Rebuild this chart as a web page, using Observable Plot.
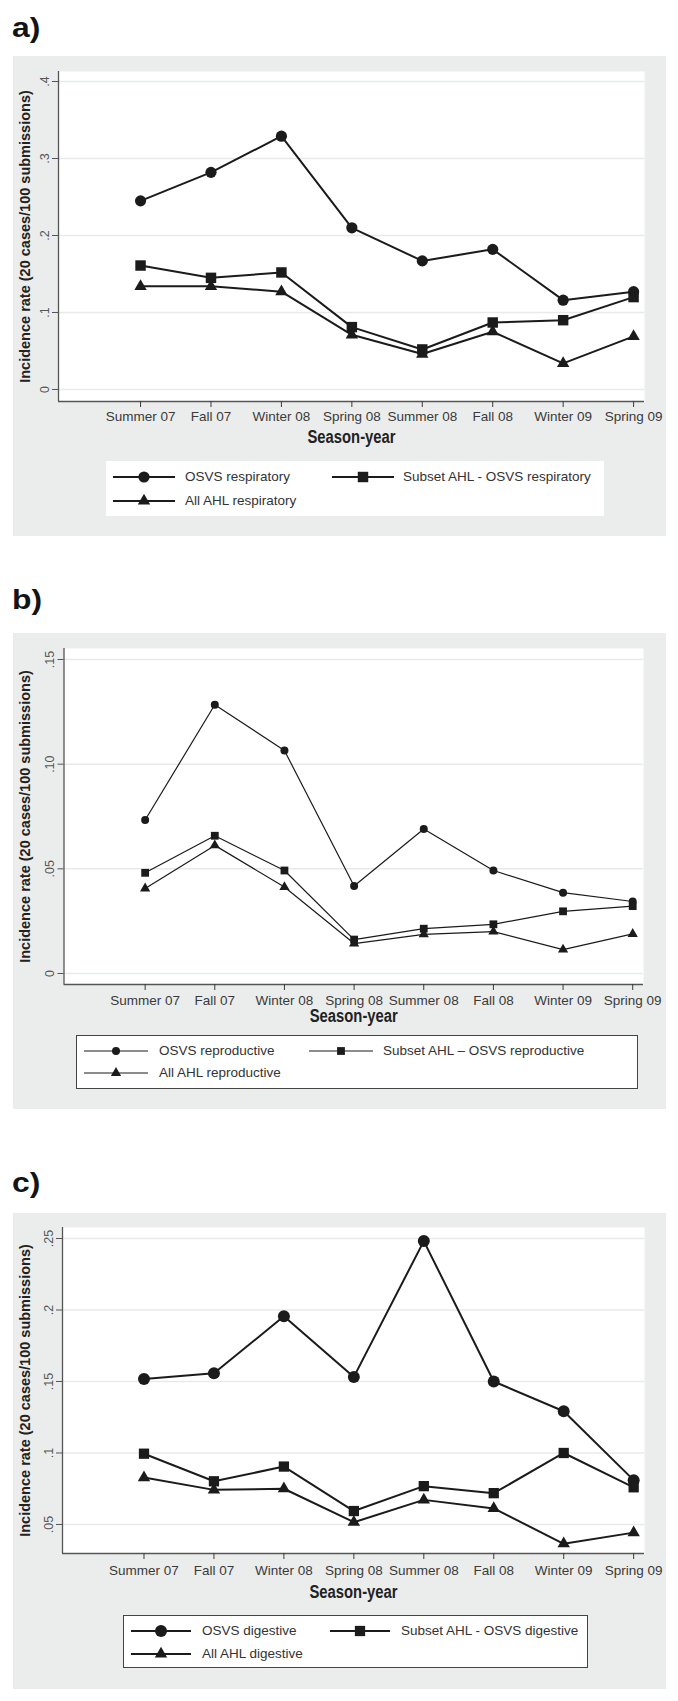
<!DOCTYPE html>
<html><head><meta charset="utf-8">
<script src="https://cdn.jsdelivr.net/npm/d3@7"></script>
<script src="https://cdn.jsdelivr.net/npm/@observablehq/plot@0.6"></script>
<style>
body{margin:0;background:#fff;font-family:"Liberation Sans",Arial,sans-serif;}
#root{position:relative;width:678px;height:1701px;overflow:hidden;}
.plabel{position:absolute;left:12px;font-weight:bold;font-size:27px;line-height:27px;color:#141414;transform:scaleX(1.18);transform-origin:left top;}
.panel{position:absolute;left:13px;width:653px;background:#ebedec;}
.panel svg{position:absolute;left:0;top:0;}
.legend{position:absolute;background:#fff;box-sizing:border-box;}
.legend .txt{position:absolute;font-size:13.5px;line-height:16px;color:#333;white-space:nowrap;}
.legend svg{position:absolute;}
</style></head><body><div id="root"></div>
<script>
// ---- data ----
const seasons = ["Summer 07","Fall 07","Winter 08","Spring 08","Summer 08","Fall 08","Winter 09","Spring 09"];
const yTitle = "Incidence rate (20 cases/100 submissions)";
const xTitle = "Season-year";

const respNames = ["OSVS respiratory","Subset AHL - OSVS respiratory","All AHL respiratory"];
const respOSVS   = [0.245, 0.282, 0.329, 0.210, 0.167, 0.182, 0.116, 0.127];
const respSubset = [0.161, 0.145, 0.152, 0.081, 0.052, 0.087, 0.090, 0.120];
const respAll    = [0.134, 0.134, 0.127, 0.071, 0.046, 0.075, 0.034, 0.069];
const respTicks = [0, 0.1, 0.2, 0.3, 0.4];
const respTickLabels = ["0", ".1", ".2", ".3", ".4"];

const reproNames = ["OSVS reproductive","Subset AHL \u2013 OSVS reproductive","All AHL reproductive"];
const reproOSVS   = [0.0733, 0.1284, 0.1065, 0.0418, 0.0690, 0.0492, 0.0386, 0.0344];
const reproSubset = [0.0481, 0.0658, 0.0492, 0.0162, 0.0214, 0.0235, 0.0297, 0.0322];
const reproAll    = [0.0406, 0.0612, 0.0413, 0.0143, 0.0187, 0.0200, 0.0114, 0.0189];
const reproTicks = [0, 0.05, 0.10, 0.15];
const reproTickLabels = ["0", ".05", ".10", ".15"];

const digNames = ["OSVS digestive","Subset AHL - OSVS digestive","All AHL digestive"];
const digOSVS   = [0.1518, 0.1557, 0.1956, 0.1532, 0.2482, 0.1500, 0.1292, 0.0810];
const digSubset = [0.0995, 0.0802, 0.0905, 0.0594, 0.0768, 0.0719, 0.1000, 0.0760];
const digAll    = [0.0828, 0.0742, 0.0750, 0.0516, 0.0672, 0.0612, 0.0365, 0.0443];
const digTicks = [0.05, 0.10, 0.15, 0.20, 0.25];
const digTickLabels = [".05", ".1", ".15", ".2", ".25"];

const symbols = ["circle", "square", "triangle"];
const d3sym = {circle: d3.symbolCircle, square: d3.symbolSquare, triangle: d3.symbolTriangle};

// ---- layout config ----
const xDomain = [-1.165, 7.155];
const panels = [
  {label:"a)", labelTop:15, top:56, height:480, ml:45, mr:22, mt:15, plotH:330, tickPad:4, titleDy:41, yDx:-33,
   yDomain:[-0.0156, 0.413], ticks:respTicks, tickLabels:respTickLabels,
   series:[respOSVS, respSubset, respAll], names:respNames, lw:2, r:{circle:5.6, square:5.9, triangle:4.6},
   legend:{left:93, top:405, width:498, height:55, border:false, rows:[16,40], cols:[[7,62,79],[226,62,297]]}},
  {label:"b)", labelTop:587, top:633, height:476, ml:50.5, mr:23, mt:15, plotH:336, tickPad:5, titleDy:37, yDx:-38.5,
   yDomain:[-0.00526, 0.15526], ticks:reproTicks, tickLabels:reproTickLabels,
   series:[reproOSVS, reproSubset, reproAll], names:reproNames, lw:1.2, r:{circle:4, square:4.4, triangle:3.8},
   legend:{left:63, top:402, width:562, height:54, border:true, rows:[16,38], cols:[[7,64,82],[232,64,306]]}},
  {label:"c)", labelTop:1170, top:1213, height:476, ml:49, mr:22, mt:14, plotH:326, tickPad:6, titleDy:44, yDx:-37,
   yDomain:[0.0297, 0.2577], ticks:digTicks, tickLabels:digTickLabels,
   series:[digOSVS, digSubset, digAll], names:digNames, lw:2, r:{circle:6, square:5.8, triangle:4.6},
   legend:{left:110, top:402, width:465, height:53, border:true, rows:[16,39], cols:[[7,60,78],[206,60,277]]}}
];

const ink = "#1b1b1b";
const root = document.getElementById("root");

for (const p of panels) {
  const lab = document.createElement("div");
  lab.className = "plabel"; lab.style.top = p.labelTop + "px"; lab.textContent = p.label;
  root.appendChild(lab);

  const box = document.createElement("div");
  box.className = "panel"; box.style.top = p.top + "px"; box.style.height = p.height + "px";
  root.appendChild(box);

  const rows = [];
  p.series.forEach((vals, s) => vals.forEach((v, i) => rows.push({x: i, y: v, s: p.names[s], sym: symbols[s]})));

  const mb = 55;
  const chart = Plot.plot({
    width: 653, height: p.mt + p.plotH + mb,
    marginLeft: p.ml, marginRight: p.mr, marginTop: p.mt, marginBottom: mb,
    style: {background: "transparent", fontFamily: "'Liberation Sans', Arial, sans-serif", fontSize: "13.5px", color: "#333", overflow: "visible"},
    x: {domain: xDomain},
    y: {domain: p.yDomain},
    marks: [
      Plot.frame({fill: "#fff", stroke: null}),
      Plot.gridY(p.ticks, {stroke: "#e8eae9", strokeOpacity: 1, strokeWidth: 1.5}),
      Plot.ruleX([xDomain[0]], {stroke: "#555", strokeWidth: 1.3}),
      Plot.ruleY([p.yDomain[0]], {stroke: "#555", strokeWidth: 1.3}),
      Plot.axisX(d3.range(seasons.length), {tickFormat: d => seasons[Math.round(d)], tickSize: 6, tickPadding: p.tickPad, fontSize: 13.5, label: null, color: "#3a3a3a"}),
      Plot.axisY(p.ticks, {tickFormat: d => p.tickLabels[p.ticks.indexOf(d)], tickRotate: -90, tickSize: 6, tickPadding: 4, fontSize: 12.5, label: null, color: "#555"}),
      Plot.line(rows, {x: "x", y: "y", z: "s", stroke: ink, strokeWidth: p.lw}),
      ...symbols.map(sy => Plot.dot(rows.filter(d => d.sym === sy), {x: "x", y: "y", symbol: sy, r: p.r[sy], fill: ink, stroke: null})),
      Plot.text([xTitle], {frameAnchor: "bottom", dy: p.titleDy, fontWeight: "bold", fontSize: 18, fill: "#222", className: "xtitle"}),
      Plot.text([yTitle], {frameAnchor: "left", textAnchor: "middle", rotate: -90, dx: p.yDx, fontWeight: "bold", fontSize: 14.5, fill: "#222"})
    ]
  });
  // condensed look for the axis title (narrow bold face)
  d3.select(chart).selectAll(".xtitle text").attr("textLength", 88).attr("lengthAdjust", "spacingAndGlyphs");
  box.appendChild(chart);

  // legend
  const L = p.legend;
  const lg = document.createElement("div");
  lg.className = "legend";
  Object.assign(lg.style, {left: L.left + "px", top: L.top + "px", width: L.width + "px", height: L.height + "px",
    border: L.border ? "1px solid #444" : "none"});
  box.appendChild(lg);
  const slots = [[0, 0], [0, 1], [1, 0]];
  p.names.forEach((name, s) => {
    const [row, col] = slots[s];
    const [sx, sw, tx] = L.cols[col];
    const cy = L.rows[row] - (L.border ? 1 : 0);
    const svg = d3.create("svg").attr("width", sw).attr("height", 20)
      .style("left", sx + "px").style("top", (cy - 10) + "px");
    svg.append("line").attr("x1", 0).attr("x2", sw).attr("y1", 10).attr("y2", 10).attr("stroke", ink).attr("stroke-width", p.lw);
    svg.append("path").attr("transform", `translate(${sw / 2},10)`)
      .attr("d", d3.symbol(d3sym[symbols[s]], Math.PI * p.r[symbols[s]] ** 2)()).attr("fill", ink);
    lg.appendChild(svg.node());
    const t = document.createElement("div");
    t.className = "txt"; t.textContent = name;
    t.style.left = tx + "px"; t.style.top = (cy - 8) + "px";
    lg.appendChild(t);
  });
}
</script>
</body></html>
